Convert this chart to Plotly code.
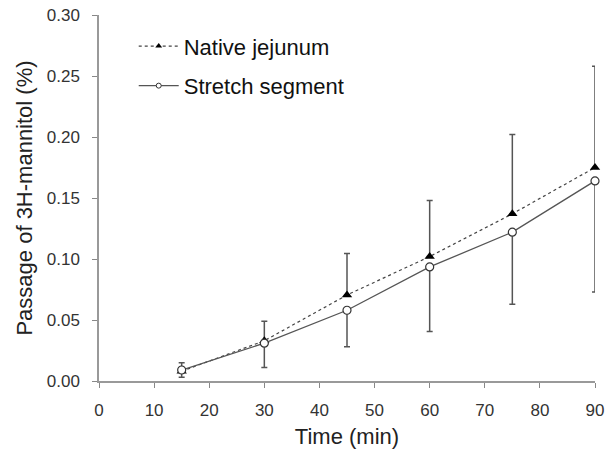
import plotly.graph_objects as go

time_min = [15, 30, 45, 60, 75, 90]
native_mean = [0.008, 0.033, 0.0705, 0.102, 0.137, 0.175]
native_err_up = [0.007, 0.016, 0.034, 0.046, 0.065, 0.083]
stretch_mean = [0.009, 0.031, 0.058, 0.0935, 0.122, 0.164]
stretch_err_down = [0.006, 0.020, 0.030, 0.053, 0.059, 0.091]
x_ticks = [0, 10, 20, 30, 40, 50, 60, 70, 80, 90]
y_ticks = [0.00, 0.05, 0.10, 0.15, 0.20, 0.25, 0.30]

native_line = dict(color="#444", width=1.2, dash="dot")
stretch_line = dict(color="#555", width=1.3)

fig = go.Figure()
fig.add_trace(go.Scatter(
    x=time_min, y=native_mean, name="Native jejunum", showlegend=False,
    mode="lines+markers", line=native_line,
    marker=dict(symbol="triangle-up", size=9, color="black"),
    error_y=dict(type="data", symmetric=False, array=native_err_up,
                 arrayminus=[0]*6, color="#555", thickness=1.5, width=3),
    cliponaxis=False,
))
fig.add_trace(go.Scatter(
    x=time_min, y=stretch_mean, name="Stretch segment", showlegend=False,
    mode="lines+markers", line=stretch_line,
    marker=dict(symbol="circle", size=8, color="white",
                line=dict(color="#333", width=1.2)),
    error_y=dict(type="data", symmetric=False, array=[0]*6,
                 arrayminus=stretch_err_down, color="#555", thickness=1.5, width=3),
    cliponaxis=False,
))
# legend-only entries (smaller symbols as in the reference legend)
fig.add_trace(go.Scatter(
    x=[None], y=[None], name="Native jejunum", legendgroup="a",
    mode="lines+markers", line=native_line,
    marker=dict(symbol="triangle-up", size=6, color="black"),
))
fig.add_trace(go.Scatter(
    x=[None], y=[None], name="Stretch segment", legendgroup="b",
    mode="lines+markers", line=stretch_line,
    marker=dict(symbol="circle", size=5, color="white",
                line=dict(color="#333", width=1)),
))

fig.update_layout(
    width=609, height=454,
    margin=dict(l=99, r=14, t=15, b=73),
    plot_bgcolor="white", paper_bgcolor="white",
    font=dict(family="Liberation Sans, Arial, sans-serif", color="#222"),
    showlegend=True,
    legend=dict(x=0.07, y=0.972, xanchor="left", yanchor="top",
                font=dict(size=22, color="#111"), tracegroupgap=8,
                bgcolor="rgba(0,0,0,0)", itemwidth=40),
    xaxis=dict(range=[0, 90], tickvals=x_ticks, ticks="outside", ticklen=5,
               tickcolor="#888", showline=True, linecolor="#999", linewidth=1.5,
               showgrid=False, zeroline=False, tickfont=dict(size=17, color="#333"),
               ticklabelstandoff=8, automargin=False,
               title=dict(text="Time (min)", font=dict(size=22, color="#222"), standoff=9)),
    yaxis=dict(range=[0, 0.30], tickvals=y_ticks, tickformat=".2f", ticks="outside",
               ticklen=5, tickcolor="#888", showline=True, linecolor="#999",
               linewidth=1.5, showgrid=False, zeroline=False, automargin=False,
               tickfont=dict(size=17, color="#333"), ticklabelstandoff=9,
               title=dict(text="Passage of 3H-mannitol (%)", font=dict(size=22, color="#222"),
                          standoff=8)),
)

fig.write_html("out.html")
